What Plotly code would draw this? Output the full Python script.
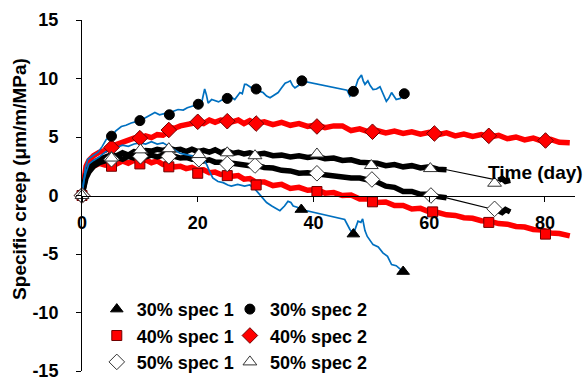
import plotly.graph_objects as go

# ---- measured series (time in days, specific creep in µm/m/MPa) ----
t30_1 = [0, 0.3, 0.7, 1.2, 2, 3, 4, 5, 6, 7,
         8, 9, 10, 11, 12, 13, 14, 15, 16, 17,
         18, 19, 20, 21, 21.6, 22, 22.6, 23.5, 24.4, 25.2,
         25.8, 26.9, 28.1, 29, 29.8, 30.5, 31.2, 31.9, 32.8, 33.5,
         34.2, 35, 35.6, 36.1, 36.5, 37.2, 37.9, 45.4, 46.3, 46.9,
         47.4, 47.7, 48.2, 48.5, 48.9, 49.3, 50.3, 51.2, 52.0, 52.8,
         53.5, 54.3, 55.5]
y30_1 = [0, 1.2, 2.0, 2.7, 3.0, 3.3, 3.7, 4.0, 4.1, 4.3,
         4.2, 4.4, 4.5, 4.4, 4.6, 4.4, 4.5, 4.2, 3.9, 3.6,
         3.5, 3.4, 3.3, 3.1, 2.6, 2.1, 1.5, 1.2, 1.1, 0.9,
         0.8, 0.95, 0.8, 0.9, 0.6, 0.2, -0.2, -0.6, -0.9, -1.1,
         -1.3, -0.9, -0.5, -0.6, -0.9, -1.0, -1.2, -2.05, -2.9, -3.3,
         -2.6, -2.2, -2.3, -2.0, -3.0, -3.5, -4.2, -4.4, -4.9, -5.2,
         -5.9, -6.0, -6.5]

t30_2 = [0, 0.3, 0.6, 1.0, 1.8, 2.8, 3.5, 4.2, 5.1, 5.8,
         6.8, 7.6, 8.5, 9.3, 10.0, 10.8, 11.6, 12.6, 13.4, 14.2,
         15.1, 15.8, 16.6, 17.5, 18.2, 18.9, 19.6, 20.1, 20.7, 21.2,
         21.5, 21.8, 22.4, 22.9, 23.6, 24.3, 25.1, 25.8, 26.4, 26.9,
         27.3, 27.7, 28.1, 28.4, 29.0, 29.6, 30.1, 30.7, 31.3, 31.9,
         32.5, 33.2, 33.9, 34.5, 35.1, 35.6, 36.0, 36.4, 36.8, 37.4,
         38.0, 45.8, 46.3, 46.9, 47.3, 47.7, 48.0, 48.3, 48.6, 48.9,
         49.4, 49.8, 50.3, 50.9, 51.5, 52.0, 52.6, 53.0, 53.5, 53.9,
         54.3, 55.0, 55.7]
y30_2 = [0, 1.5, 2.4, 3.1, 3.4, 3.7, 4.2, 4.8, 5.0, 5.5,
         5.9, 6.0, 6.2, 6.3, 6.4, 6.6, 6.8, 7.1, 6.9, 7.0,
         6.9, 7.2, 7.35, 7.3, 7.5, 7.6, 7.7, 7.8, 8.0, 9.1,
         8.6, 7.9, 8.2, 8.1, 8.0, 8.2, 8.3, 8.4, 8.2, 8.5,
         8.8, 8.7, 9.5, 9.5, 9.3, 9.1, 9.1, 8.9, 8.8, 8.5,
         8.35, 8.6, 8.8, 9.2, 9.6, 9.7, 9.8, 9.4, 9.2, 9.4,
         9.8, 9.0, 8.5, 8.9, 9.3, 9.9, 10.1, 10.3, 9.8, 9.5,
         9.8, 9.4, 9.05, 9.1, 9.3, 8.7, 8.05, 8.3, 8.8, 8.5,
         8.2, 8.3, 8.7]

t40_1 = [0, 0.3, 0.7, 1.2, 2, 3, 4, 5, 6, 7,
         8, 9, 10, 11, 12, 13, 14, 15, 16, 17,
         18, 19, 20, 21, 22, 23, 24, 25, 26, 27,
         28, 29, 30, 31.5, 33, 34.5, 36, 37.5, 39, 40.5,
         42, 43.5, 45, 46.5, 48, 49.5, 51, 52.5, 54, 55.5,
         57, 58.5, 60, 61.5, 63, 64.5, 66, 67.5, 69, 70.5,
         72, 73.5, 75, 76.5, 78, 79.5, 81, 82.5, 84.3]
y40_1 = [0, 1.2, 1.8, 2.2, 2.5, 2.75, 2.6, 2.8, 2.7, 2.95,
         2.75, 3.0, 2.85, 3.05, 2.8, 2.95, 2.65, 2.7, 2.45, 2.5,
         2.3, 2.4, 2.15, 2.2, 1.95, 2.0, 1.8, 1.85, 1.65, 1.7,
         1.4, 1.45, 1.15, 1.15, 0.85, 0.95, 0.6, 0.7, 0.45, 0.5,
         0.2, 0.25, 0.0, 0.05, -0.3, -0.3, -0.6, -0.55, -0.85, -0.85,
         -1.15, -1.1, -1.4, -1.45, -1.65, -1.7, -1.9, -1.95, -2.15, -2.2,
         -2.4, -2.45, -2.65, -2.7, -2.9, -2.95, -3.2, -3.25, -3.45]

t40_2 = [0, 0.3, 0.7, 1.2, 2, 3, 4, 5, 6, 7,
         8, 9, 10, 11, 12, 13, 14, 14.6, 15.2, 16,
         17, 18, 19, 20, 21, 22, 23, 24, 25, 26,
         27, 28, 29, 30, 31.5, 33, 34.5, 36, 37.5, 39,
         40.5, 42, 43.5, 45, 46.5, 48, 49.5, 51, 52.5, 54,
         55.5, 57, 58.5, 60, 61.5, 63, 64.5, 66, 67.5, 69,
         70.5, 72, 73.5, 75, 76.5, 78, 79.5, 81, 82.5, 84.3]
y40_2 = [0, 1.5, 2.5, 3.0, 3.4, 3.7, 3.85, 4.2, 4.35, 4.6,
         4.65, 4.9, 4.85, 5.1, 4.95, 5.2, 5.15, 5.35, 5.8, 5.75,
         5.95, 6.05, 6.2, 6.25, 6.15, 6.45, 6.25, 6.45, 6.4, 6.3,
         6.45, 6.15, 6.4, 6.15, 6.3, 6.05, 6.25, 6.0, 6.15, 5.9,
         6.05, 5.8, 5.95, 5.95, 5.55, 5.7, 5.45, 5.55, 5.35, 5.5,
         5.3, 5.45, 5.25, 5.4, 5.2, 5.35, 5.1, 5.25, 5.05, 5.2,
         5.0, 5.15, 4.85, 5.0, 4.75, 4.9, 4.65, 4.8, 4.55, 4.5]

t50 = [0, 0.3, 0.7, 1.2, 2, 3, 4, 5, 6, 7,
       8, 9, 10, 11, 12, 13, 14, 15, 16, 17,
       18, 19, 20, 21, 22, 23, 24, 25, 26, 27,
       28, 29, 30, 31.5, 33, 34.5, 36, 37.5, 39, 40.5,
       42, 43.5, 45, 46.5, 48, 49.5, 51, 52.5, 54, 55.5,
       57, 58.5, 60, 61.5, 63, 72, 72.6, 73.2, 74]
y50_1 = [0, 0.8, 1.5, 2.0, 2.5, 2.8, 3.0, 3.1, 3.25, 3.1,
         3.35, 3.2, 3.4, 3.3, 3.45, 3.3, 3.45, 3.3, 3.35, 3.2,
         3.25, 3.1, 3.15, 2.95, 3.05, 2.85, 2.85, 2.7, 2.75, 2.65,
         2.65, 2.55, 2.6, 2.4, 2.35, 2.15, 2.1, 1.9, 1.95, 1.85,
         1.8, 1.65, 1.65, 1.5, 1.5, 1.3, 1.15, 0.8, 0.7, 0.35,
         0.35, 0.1, 0.1, -0.1, -0.2, -1.3, -1.45, -1.2, -1.4]
y50_2 = [0, 1.0, 1.8, 2.3, 2.8, 3.1, 3.3, 3.45, 3.4, 3.65,
         3.45, 3.75, 3.7, 3.85, 3.8, 3.95, 3.85, 4.05, 3.9, 3.95,
         3.75, 3.95, 3.75, 3.85, 3.7, 3.9, 3.65, 3.85, 3.6, 3.7,
         3.55, 3.65, 3.5, 3.6, 3.4, 3.45, 3.3, 3.4, 3.25, 3.35,
         3.15, 3.2, 3.0, 3.05, 2.85, 2.8, 2.75, 2.55, 2.65, 2.45,
         2.55, 2.35, 2.45, 2.25, 2.2, 1.3, 1.45, 1.2, 1.3]

# ---- marker readings ----
mt30_1 = [0, 37.9, 46.9, 55.5]
my30_1 = [0, -1.2, -3.3, -6.5]
mt30_2 = [0, 5.1, 10.0, 15.1, 20.1, 25.1, 30.1, 38.0, 46.9, 55.7]
my30_2 = [0, 5.07, 6.4, 6.9, 7.8, 8.3, 9.1, 9.8, 8.9, 8.7]
mt40_1 = [0, 5.1, 10.0, 15.0, 20.0, 25.1, 30.1, 40.6, 50.2, 60.6, 70.3, 80.1]
my40_1 = [0, 2.5, 2.7, 2.45, 1.9, 1.7, 0.9, 0.34, -0.54, -1.4, -2.3, -3.3]
mt40_2 = [0, 5.1, 10.0, 15.0, 20.0, 25.1, 30.1, 40.6, 50.2, 60.9, 70.3, 80.1]
my40_2 = [0, 4.1, 4.9, 5.6, 6.3, 6.35, 6.15, 5.9, 5.45, 5.3, 5.1, 4.7]
mt50_1 = [0, 5.1, 10.1, 15.0, 20.2, 25.1, 29.9, 40.6, 50.1, 60.3, 71.3]
my50_1 = [0, 3.1, 3.35, 3.35, 3.1, 2.7, 2.56, 1.9, 1.37, 0.0, -1.14]
mt50_2 = [0, 5.1, 10.1, 15.0, 20.2, 25.1, 29.9, 40.6, 50.0, 60.2, 71.3]
my50_2 = [0, 3.2, 3.9, 4.0, 3.5, 3.65, 3.4, 3.55, 2.56, 2.3, 1.05]

x_ticks = [0, 20, 40, 60, 80]
y_ticks = [-15, -10, -5, 0, 5, 10, 15]

BLUE = "#0070C0"
RED = "#FF0000"
BLACK = "#000000"
FONT = "Liberation Sans, Arial, sans-serif"


def split_gaps(t, y, max_step=4):
    """Insert breaks where the logger stopped recording."""
    tt, yy = [], []
    for i, (a, b) in enumerate(zip(t, y)):
        if i and a - t[i - 1] > max_step:
            tt.append(None)
            yy.append(None)
        tt.append(a)
        yy.append(b)
    return tt, yy


fig = go.Figure()

# noisy strain-gauge records (red / black bands)
for t, y in [(t40_1, y40_1), (t40_2, y40_2)]:
    fig.add_trace(go.Scatter(x=t, y=y, mode="lines", showlegend=False,
                             line=dict(color=RED, width=5.5)))
for y in [y50_1, y50_2]:
    fig.add_trace(go.Scatter(x=t50, y=y, mode="lines", showlegend=False,
                             line=dict(color=BLACK, width=1.2)))
    gt, gy = split_gaps(t50, y)
    fig.add_trace(go.Scatter(x=gt, y=gy, mode="lines", showlegend=False,
                             connectgaps=False,
                             line=dict(color=BLACK, width=5.5)))
for t, y in [(t30_1, y30_1), (t30_2, y30_2)]:
    fig.add_trace(go.Scatter(x=t, y=y, mode="lines", showlegend=False,
                             line=dict(color=BLUE, width=1.7)))

# point markers (legend entries)
marker_series = [
    ("40% spec 1", mt40_1, my40_1, "square", RED, "#700000", 10, "legend"),
    ("40% spec 2", mt40_2, my40_2, "diamond", RED, "#700000", 12, "legend2"),
    ("30% spec 2", mt30_2, my30_2, "circle", BLACK, BLACK, 10, "legend2"),
    ("30% spec 1", mt30_1, my30_1, "triangle-up", BLACK, BLACK, 11, "legend"),
    ("50% spec 1", mt50_1, my50_1, "diamond", "white", "#333333", 12, "legend"),
    ("50% spec 2", mt50_2, my50_2, "triangle-up", "white", "#333333", 12, "legend2"),
]
rank = {"30% spec 1": 1, "40% spec 1": 2, "50% spec 1": 3,
        "30% spec 2": 1, "40% spec 2": 2, "50% spec 2": 3}
for name, t, y, sym, fill, edge, size, leg in marker_series:
    fig.add_trace(go.Scatter(
        x=t, y=y, mode="markers", name=name, legend=leg,
        legendrank=rank[name], cliponaxis=False,
        marker=dict(symbol=sym, size=size, color=fill,
                    line=dict(color=edge, width=1)),
    ))

legend_style = dict(
    xanchor="left", yanchor="middle", bgcolor="rgba(0,0,0,0)",
    orientation="v", tracegroupgap=0, itemwidth=30,
    font=dict(family=FONT, size=18, color=BLACK, weight="bold"),
)

fig.update_layout(
    width=588, height=384,
    margin=dict(l=82, r=13, t=20, b=13, autoexpand=False),
    paper_bgcolor="white", plot_bgcolor="white",
    font=dict(family=FONT, size=18, color=BLACK),
    legend=dict(x=0.03, y=0.1, **legend_style),
    legend2=dict(x=0.30, y=0.1, **legend_style),
    xaxis=dict(
        range=[0, 85.2], tickvals=x_ticks,
        ticktext=[str(v) for v in x_ticks],
        anchor="free", position=0.5,
        showline=True, linecolor=BLACK, linewidth=1,
        ticks="outside", ticklen=5, tickcolor=BLACK,
        showgrid=False, zeroline=False, ticklabelstandoff=6,
        tickfont=dict(family=FONT, size=18, color=BLACK, weight="bold"),
    ),
    yaxis=dict(
        range=[-15, 15], tickvals=y_ticks,
        ticktext=[str(v) for v in y_ticks],
        showline=True, linecolor=BLACK, linewidth=1,
        ticks="outside", ticklen=5, tickcolor=BLACK,
        showgrid=False, zeroline=False, ticklabelstandoff=14,
        tickfont=dict(family=FONT, size=18, color=BLACK, weight="bold"),
    ),
    annotations=[
        dict(text="Time (day)", xref="paper", yref="paper",
             x=1.02, y=0.566, xanchor="right", yanchor="middle",
             showarrow=False,
             font=dict(family=FONT, size=19, color=BLACK, weight="bold")),
        dict(text="Specific creep (μm/m/MPa)", xref="paper", yref="paper",
             x=-0.128, y=0.547, xanchor="center", yanchor="middle",
             textangle=-90, showarrow=False,
             font=dict(family=FONT, size=19, color=BLACK, weight="bold")),
    ],
    showlegend=True,
)

fig.write_html("out.html")
